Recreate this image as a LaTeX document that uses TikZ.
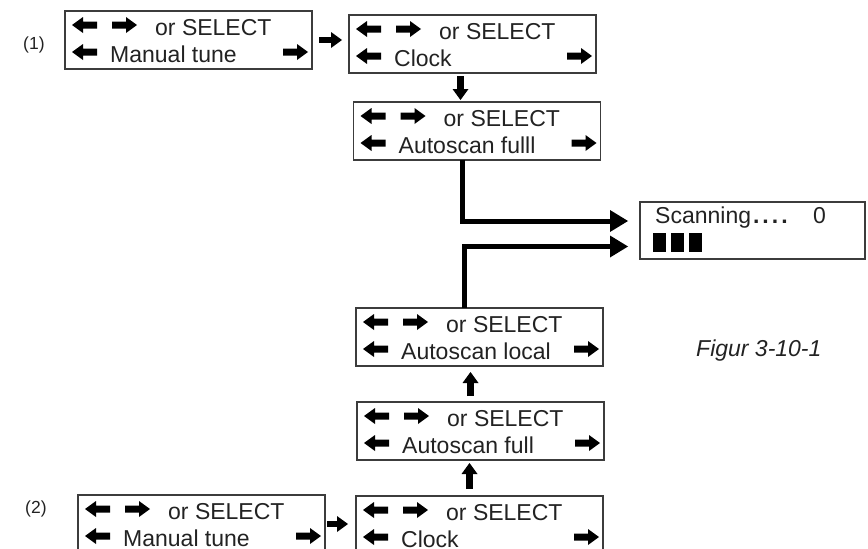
\documentclass[tikz,border=0pt]{standalone}
\usepackage{fontspec}
\setmainfont{Liberation Sans}
\usetikzlibrary{arrows.meta}
\usetikzlibrary{positioning}

\definecolor{ink}{HTML}{222222}
\definecolor{rim}{HTML}{3C3C3C}

% one menu screen: name, placement, second line
\newcommand{\menubox}[3]{
  \node[menu] (#1) [#2] {};
  \pic at ([shift={(7,14)}]#1.north west) {leftkey};
  \pic at ([shift={(47,14)}]#1.north west) {rightkey};
  \node[txt] (#1-sel) at ([shift={(90,24)}]#1.north west) {or SELECT};
  \pic at ([shift={(7,41)}]#1.north west) {leftkey};
  \node[txt] (#1-item) at ([shift={(45,51)}]#1.north west) {#3};
  \pic at ([shift={(218,41)}]#1.north west) {rightkey};
}

\begin{document}
\begin{tikzpicture}[x=1pt,y=-1pt,
  menu/.style={draw=rim,line width=1.2pt,minimum width=247pt,minimum height=58pt,inner sep=0,outer sep=0},
  screen/.style={menu,minimum width=225pt,minimum height=57pt},
  txt/.style={anchor=base west,inner sep=0,text=ink,font=\fontsize{23}{27}\selectfont},
  tag/.style={txt,font=\fontsize{17.5}{20}\selectfont},
  jump/.style={line width=6.5pt,-{Triangle[length=11pt,width=16pt,line width=0pt]}},
  flow/.style={line width=5pt,line join=miter,-{Triangle[length=18pt,width=22pt,line width=0pt]}},
  leftkey/.pic={\fill[black] (0,0) -- (11,-8) -- (11,-3.5) -- (25,-3.5) -- (25,3.5) -- (11,3.5) -- (11,8) -- cycle;},
  rightkey/.pic={\fill[black] (0,-3.5) -- (14,-3.5) -- (14,-8) -- (25,0) -- (14,8) -- (14,3.5) -- (0,3.5) -- cycle;}]

  \path[use as bounding box,clip] (0,0) rectangle (868,549);

  % path (1)
  \node[tag] (n1) at (23,49.5) {(1)};
  \menubox{m1}{at={(188.5,40)}}{Manual tune}
  \menubox{c1}{right=37pt of m1,yshift=-4pt}{Clock}
  \menubox{a1}{below=29pt of c1,xshift=4.5pt}{Autoscan fulll}

  % scanning screen
  \node[screen] (s) at (752.5,230.5) {};
  \node[txt] (s-msg) at ([shift={(15,21)}]s.north west) {Scanning\textbf{\kern2pt.\kern3pt.\kern3pt.\kern3pt.}};
  \node[txt] (s-num) at ([shift={(173,21)}]s.north west) {0};
  \foreach \i in {0,1,2}
    \fill[black] ([shift={({13+18*\i},31)}]s.north west) rectangle +(13,19);

  % path (2)
  \menubox{a2}{at={(479.5,337)}}{Autoscan local}
  \menubox{a3}{below=36pt of a2,xshift=1pt}{Autoscan full}
  \menubox{c2}{below=36pt of a3,xshift=-1pt}{Clock}
  \menubox{m2}{left=31pt of c2,yshift=1pt}{Manual tune}
  \node[tag] (n2) at (25,513) {(2)};

  \node[txt,font=\fontsize{23}{27}\selectfont\itshape] (fig) at (696,356) {Figur 3-10-1};

  \draw[jump,shorten <=7pt,shorten >=7pt] (m1.east) -- (m1.east -| c1.west);
  \draw[jump,shorten <=3pt,shorten >=2pt] ([xshift=-12pt]c1.south) -- ([xshift=-12pt]c1.south |- a1.north);
  \draw[flow,shorten >=12pt] ([xshift=-15pt]a1.south) |- ([yshift=9.5pt]s.west);
  \draw[flow,shorten >=12pt] ([xshift=-15pt]a2.north) |- ([yshift=-16pt]s.west);
  \draw[jump,shorten <=6pt,shorten >=6pt] ([xshift=-10pt]a3.north) -- ([xshift=-10pt]a3.north |- a2.south);
  \draw[jump,shorten <=7pt,shorten >=3pt] ([xshift=-10pt]c2.north) -- ([xshift=-10pt]c2.north |- a3.south);
  \draw[jump,shorten <=2pt,shorten >=8pt] (m2.east) -- (m2.east -| c2.west);
\end{tikzpicture}
\end{document}
